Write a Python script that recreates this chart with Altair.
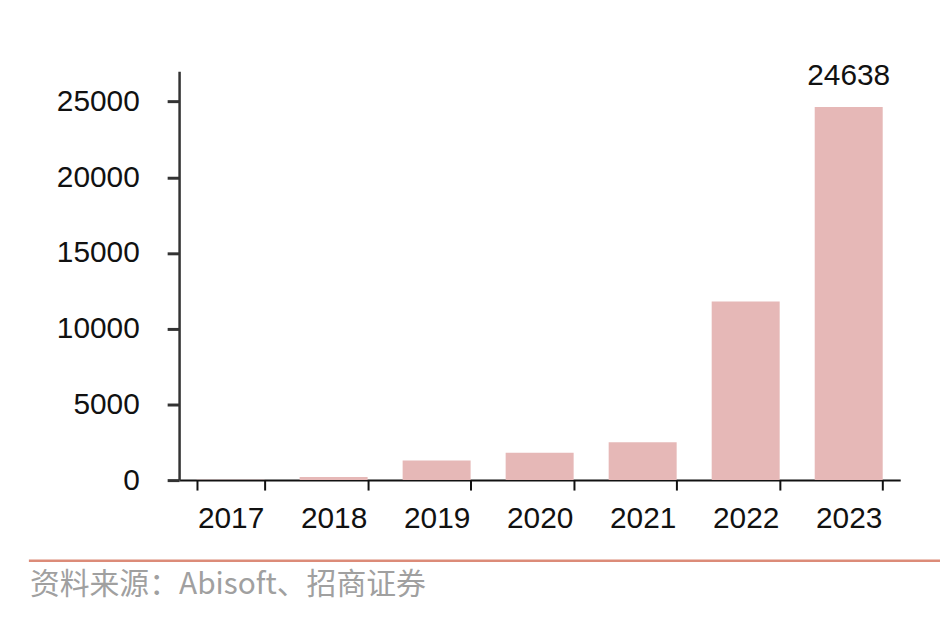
import altair as alt
import pandas as pd

years = ["2017", "2018", "2019", "2020", "2021", "2022", "2023"]
values = [30, 200, 1300, 1800, 2500, 11800, 24638]
label_years = ["2023"]
label_values = [24638]
y_ticks = [0, 5000, 10000, 15000, 20000, 25000]
source_text = ["资料来源：Abisoft、招商证券"]

df = pd.DataFrame({"year": years, "value": values})
lab = pd.DataFrame({"year": label_years, "value": label_values})
src = pd.DataFrame({"t": source_text})

W, H = 725, 411

x = alt.X("year:N", sort=years, title=None,
          scale=alt.Scale(paddingInner=0.34, paddingOuter=0.17),
          axis=alt.Axis(labelAngle=0, labelFontSize=30, labelColor="#111",
                        labelFont="Liberation Sans", domainColor="#111",
                        domainWidth=2, tickColor="#111", tickWidth=2, tickSize=10,
                        tickBand="extent", labelPadding=14, grid=False))
y = alt.Y("value:Q", title=None,
          scale=alt.Scale(domain=[0, 27000], nice=False),
          axis=alt.Axis(values=y_ticks, format="d", labelFontSize=30, labelColor="#111",
                        labelFont="Liberation Sans", domainColor="#333",
                        domainWidth=2.5, tickColor="#333", tickWidth=3, tickSize=12,
                        labelPadding=28, grid=False))

bars = alt.Chart(df).mark_bar(color="#E6B8B7").encode(x=x, y=y)

labels = alt.Chart(lab).mark_text(fontSize=30, font="Liberation Sans", color="#111",
                                  baseline="alphabetic", dy=-22).encode(
    x=alt.X("year:N", sort=years), y="value:Q", text=alt.Text("value:Q", format="d"))

line = alt.Chart(src).mark_rule(color="#DC8B78", strokeWidth=2.5).encode(
    x=alt.value(-151), x2=alt.value(770), y=alt.value(492))

source = alt.Chart(src).mark_text(align="left", baseline="middle", fontSize=30,
                                  font="Noto Sans CJK SC", color="#a0a0a0").encode(
    x=alt.value(-150), y=alt.value(516), text="t:N")

chart = alt.layer(bars, labels, line, source).properties(
    width=W, height=H,
    autosize=alt.AutoSizeParams(type="none"),
    padding={"left": 172, "top": 62, "right": 40, "bottom": 140},
).configure(background="white").configure_view(strokeWidth=0, stroke="transparent")

chart.save("out.html", embed_options={"renderer": "svg", "actions": False})
